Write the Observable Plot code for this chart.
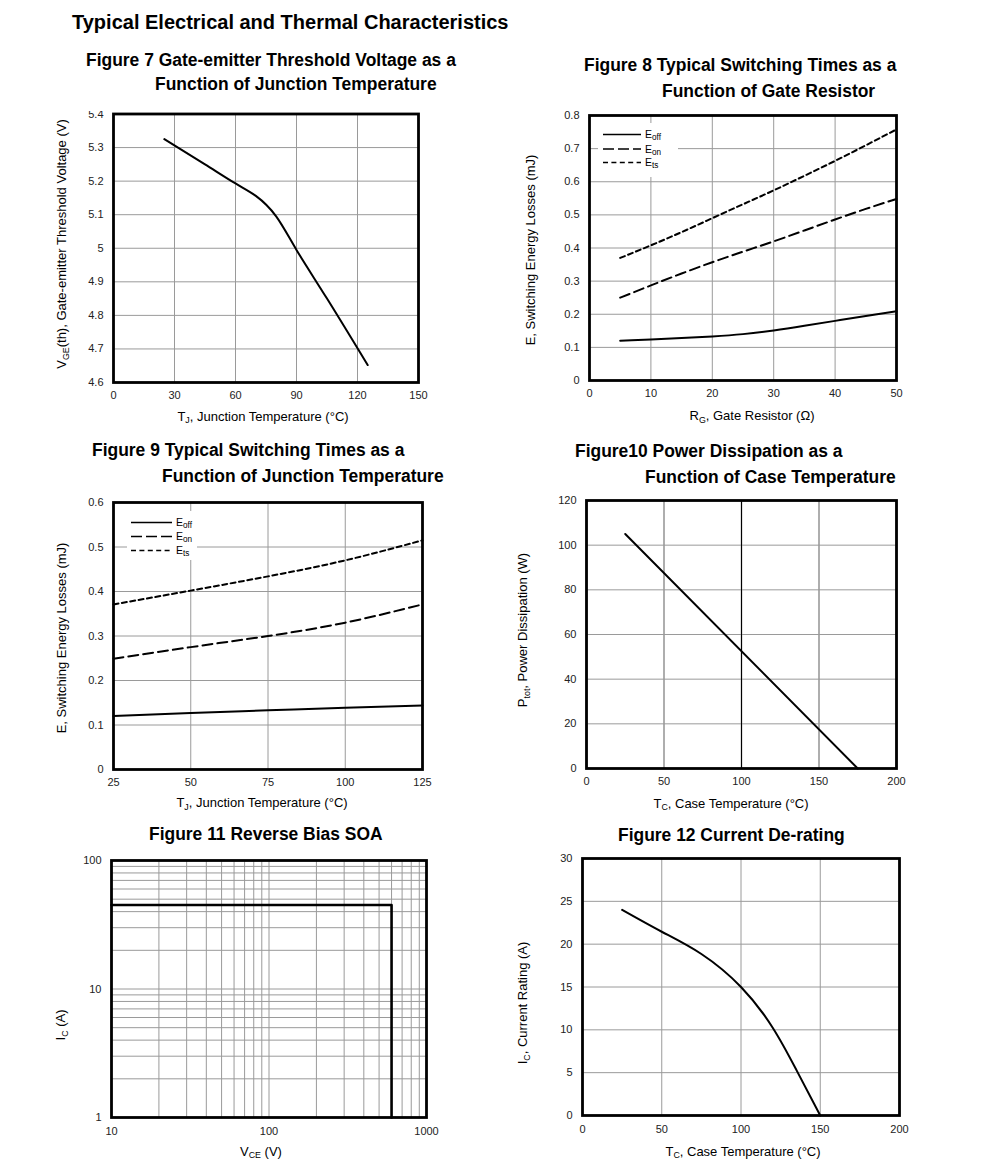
<!DOCTYPE html>
<html><head><meta charset="utf-8">
<script src="https://cdn.jsdelivr.net/npm/d3@7"></script>
<script src="https://cdn.jsdelivr.net/npm/@observablehq/plot@0.6"></script>
<style>
html,body{margin:0;padding:0;background:#fff;}
#page{position:relative;width:991px;height:1160px;overflow:hidden;background:#fff;}
</style></head><body><div id="page"></div>
<script>
// ---------- data ----------
// Figure 7
const tj7  = [25, 45, 60, 70, 80, 90, 105, 125];
const vge7 = [5.325, 5.25, 5.193, 5.156, 5.095, 4.995, 4.85, 4.652];
const x7Ticks = [0, 30, 60, 90, 120, 150];
const y7Ticks = [4.6, 4.7, 4.8, 4.9, 5, 5.1, 5.2, 5.3, 5.4];
// Figure 8
const rg8   = [5, 10, 15, 20, 25, 30, 35, 40, 45, 50];
const eoff8 = [0.12, 0.124, 0.128, 0.133, 0.14, 0.151, 0.165, 0.18, 0.195, 0.209];
const eon8  = [0.25, 0.287, 0.323, 0.357, 0.389, 0.42, 0.453, 0.486, 0.518, 0.548];
const ets8  = [0.37, 0.408, 0.448, 0.49, 0.532, 0.574, 0.618, 0.663, 0.71, 0.758];
const x8Ticks = [0, 10, 20, 30, 40, 50];
const y8Ticks = [0, 0.1, 0.2, 0.3, 0.4, 0.5, 0.6, 0.7, 0.8];
// Figure 9
const tj9   = [25, 50, 75, 100, 125];
const eoff9 = [0.12, 0.127, 0.133, 0.139, 0.144];
const eon9  = [0.249, 0.275, 0.30, 0.33, 0.371];
const ets9  = [0.371, 0.402, 0.434, 0.47, 0.515];
const x9Ticks = [25, 50, 75, 100, 125];
const y9Ticks = [0, 0.1, 0.2, 0.3, 0.4, 0.5, 0.6];
// Figure 10
const tc10 = [25, 175];
const p10  = [105, 0];
const x10Ticks = [0, 50, 100, 150, 200];
const y10Ticks = [0, 20, 40, 60, 80, 100, 120];
// Figure 11
const vce11 = [10, 600, 600];
const ic11  = [45, 45, 1];
const x11Grid = [10,20,30,40,50,60,70,80,90,100,200,300,400,500,600,700,800,900,1000];
const y11Grid = [1,2,3,4,5,6,7,8,9,10,20,30,40,50,60,70,80,90,100];
const x11Ticks = [10, 100, 1000];
const y11Ticks = [1, 10, 100];
// Figure 12
const tc12 = [25, 50, 75, 100, 120, 135, 150];
const ic12 = [24, 21.45, 18.85, 15.0, 10.25, 5.3, 0];
const x12Ticks = [0, 50, 100, 150, 200];
const y12Ticks = [0, 5, 10, 15, 20, 25, 30];

// ---------- helpers ----------
const page = document.getElementById("page");
const FONT = '"Liberation Sans", Arial, Helvetica, sans-serif';
const GRID = "#9a9a9a";
const fmt = d => String(d);

function chart(box, {x, y, marks, clipTop}) {
  const [l, t, r, b] = box;
  const ml = 60, mr = 16, mb = 32;
  const mt = clipTop != null ? clipTop : 12;
  const svg = Plot.plot({
    width: (r - l) + ml + mr, height: (b - t) + mt + mb,
    marginLeft: ml, marginRight: mr, marginTop: mt, marginBottom: mb,
    x, y,
    style: {background: "transparent", overflow: clipTop != null ? "hidden" : "visible",
            fontFamily: FONT, fontSize: "11px", color: "#222"},
    marks
  });
  svg.style.position = "absolute";
  svg.style.left = (l - ml) + "px";
  svg.style.top = (t - mt) + "px";
  page.append(svg);
}
function axes(xg, yg, xt, yt, extra = {}) {
  return [
    Plot.gridX(xg, {stroke: GRID, strokeOpacity: 1, strokeWidth: extra.gridXWidth || 1}),
    Plot.gridY(yg, {stroke: GRID, strokeOpacity: 1, strokeWidth: 1}),
    Plot.axisX(xt, {tickSize: 0, tickPadding: extra.xPad || 9, fontSize: 11, label: null, tickFormat: fmt}),
    Plot.axisY(yt, {tickSize: 0, tickPadding: 10, fontSize: 11, label: null, tickFormat: fmt})
  ];
}
const frame = Plot.frame({stroke: "black", strokeWidth: 2.8});
const LW = 2;
const DASH_ON = "10,5", DASH_TS = "5,3.5";

// Figure 7
chart([113, 113.5, 418, 382], {
  clipTop: 2.5,
  x: {domain: [0, 150]}, y: {domain: [4.6, 5.4]},
  marks: [...axes(x7Ticks, y7Ticks, x7Ticks, y7Ticks),
    Plot.line(tj7, {x: tj7, y: vge7, curve: "natural", stroke: "black", strokeWidth: LW}),
    frame]
});
// Figure 8
chart([589, 115, 896, 380], {
  x: {domain: [0, 50]}, y: {domain: [0, 0.8]},
  marks: [...axes(x8Ticks, y8Ticks, x8Ticks, y8Ticks),
    Plot.line(rg8, {x: rg8, y: eoff8, curve: "natural", stroke: "black", strokeWidth: LW}),
    Plot.line(rg8, {x: rg8, y: eon8, curve: "natural", stroke: "black", strokeWidth: LW, strokeDasharray: DASH_ON}),
    Plot.line(rg8, {x: rg8, y: ets8, curve: "natural", stroke: "black", strokeWidth: LW, strokeDasharray: DASH_TS}),
    frame]
});
// Figure 9
chart([113, 502, 422, 769], {
  x: {domain: [25, 125]}, y: {domain: [0, 0.6]},
  marks: [...axes(x9Ticks, y9Ticks, x9Ticks, y9Ticks),
    Plot.line(tj9, {x: tj9, y: eoff9, curve: "natural", stroke: "black", strokeWidth: LW}),
    Plot.line(tj9, {x: tj9, y: eon9, curve: "natural", stroke: "black", strokeWidth: LW, strokeDasharray: DASH_ON}),
    Plot.line(tj9, {x: tj9, y: ets9, curve: "natural", stroke: "black", strokeWidth: LW, strokeDasharray: DASH_TS}),
    frame]
});
// Figure 10
chart([586, 500, 896, 768], {
  x: {domain: [0, 200]}, y: {domain: [0, 120]},
  marks: [...axes(x10Ticks, y10Ticks, x10Ticks, y10Ticks, {gridXWidth: 1.6}),
    Plot.ruleX([100], {stroke: "black", strokeWidth: 1}),
    Plot.line(tc10, {x: tc10, y: p10, stroke: "black", strokeWidth: LW}),
    frame]
});
// Figure 11
chart([111, 860, 426, 1117], {
  x: {type: "log", domain: [10, 1000]}, y: {type: "log", domain: [1, 100]},
  marks: [...axes(x11Grid, y11Grid, x11Ticks, y11Ticks, {xPad: 10}),
    Plot.line(vce11, {x: vce11, y: ic11, stroke: "black", strokeWidth: 2.6}),
    frame]
});
// Figure 12
chart([582, 858, 899, 1115], {
  x: {domain: [0, 200]}, y: {domain: [0, 30]},
  marks: [...axes(x12Ticks, y12Ticks, x12Ticks, y12Ticks, {xPad: 10}),
    Plot.line(tc12, {x: tc12, y: ic12, curve: "natural", stroke: "black", strokeWidth: LW}),
    frame]
});

// ---------- overlay: titles, axis labels, legends ----------
const ov = d3.select(page).append("svg")
  .attr("width", 991).attr("height", 1160)
  .style("position", "absolute").style("left", "0px").style("top", "0px")
  .style("font-family", FONT);

function txt(parts, {x, y, size = 13, weight = "normal", anchor = "start", rotate = false, sub = 0.68}) {
  const t = ov.append("text")
    .attr("font-size", size).attr("font-weight", weight)
    .attr("text-anchor", anchor).attr("fill", "#000");
  if (rotate) t.attr("transform", `translate(${x},${y}) rotate(-90)`);
  else t.attr("x", x).attr("y", y);
  const shift = size * 0.2;
  let down = false;
  for (const p of parts) {
    const isSub = Array.isArray(p);
    const s = isSub ? p[0] : p;
    const ts = t.append("tspan").text(s);
    if (isSub && !down) { ts.attr("dy", shift).attr("font-size", size * sub); down = true; }
    else if (!isSub && down) { ts.attr("dy", -shift); down = false; }
    else if (isSub) ts.attr("font-size", size * sub);
  }
  return t;
}

// Titles
const TS = 17.45;
txt(["Typical Electrical and Thermal Characteristics"], {x: 72, y: 29, size: 20, weight: "bold"});
txt(["Figure 7 Gate-emitter Threshold Voltage as a"], {x: 86, y: 65.5, size: TS, weight: "bold"});
txt(["Function of Junction Temperature"], {x: 155, y: 90, size: TS, weight: "bold"});
txt(["Figure 8 Typical Switching Times as a"], {x: 584, y: 70.5, size: TS, weight: "bold"});
txt(["Function of Gate Resistor"], {x: 662, y: 96.5, size: TS, weight: "bold"});
txt(["Figure 9 Typical Switching Times as a"], {x: 92, y: 455.5, size: TS, weight: "bold"});
txt(["Function of Junction Temperature"], {x: 162, y: 481.5, size: TS, weight: "bold"});
txt(["Figure10 Power Dissipation as a"], {x: 575, y: 457, size: TS, weight: "bold"});
txt(["Function of Case Temperature"], {x: 645, y: 483, size: TS, weight: "bold"});
txt(["Figure 11 Reverse Bias SOA"], {x: 149, y: 839.5, size: TS, weight: "bold"});
txt(["Figure 12 Current De-rating"], {x: 618, y: 840.5, size: TS, weight: "bold"});

// Axis labels
txt(["T", ["J"], ", Junction Temperature (°C)"], {x: 263, y: 420.5, anchor: "middle"});
txt(["V", ["GE"], "(th), Gate-emitter Threshold Voltage (V)"], {x: 66, y: 244, anchor: "middle", rotate: true});
txt(["R", ["G"], ", Gate Resistor (Ω)"], {x: 752, y: 420, anchor: "middle"});
txt(["E, Switching Energy Losses (mJ)"], {x: 535, y: 250, anchor: "middle", rotate: true});
txt(["T", ["J"], ", Junction Temperature (°C)"], {x: 262, y: 807, anchor: "middle"});
txt(["E, Switching Energy Losses (mJ)"], {x: 66, y: 638, anchor: "middle", rotate: true});
txt(["T", ["C"], ", Case Temperature (°C)"], {x: 731, y: 807.5, anchor: "middle"});
txt(["P", ["tot"], ", Power Dissipation (W)"], {x: 527, y: 630, anchor: "middle", rotate: true});
txt(["V", ["CE"], " (V)"], {x: 261, y: 1155.5, anchor: "middle"});
txt(["I", ["C"], " (A)"], {x: 65, y: 1025, anchor: "middle", rotate: true});
txt(["T", ["C"], ", Case Temperature (°C)"], {x: 743, y: 1155.5, anchor: "middle"});
txt(["I", ["C"], ", Current Rating (A)"], {x: 527, y: 1003, anchor: "middle", rotate: true});

// Legends
function legend(box, x0, x1, ys) {
  ov.append("rect").attr("x", box[0]).attr("y", box[1])
    .attr("width", box[2] - box[0]).attr("height", box[3] - box[1]).attr("fill", "#fff");
  const dashes = [null, "11,4", "5,3.4"];
  const names = ["off", "on", "ts"];
  ys.forEach((y, i) => {
    const ln = ov.append("line").attr("x1", x0).attr("x2", x1).attr("y1", y).attr("y2", y)
      .attr("stroke", "#000").attr("stroke-width", 1.4);
    if (dashes[i]) ln.attr("stroke-dasharray", dashes[i]);
    txt(["E", [names[i]]], {x: x1 + 4, y: y + 3.6, size: 10.5, sub: 0.78});
  });
}
legend([598, 123, 678, 177], 603, 641, [134.5, 149, 162.5]);
legend([127, 511, 197, 560], 131, 172, [522.5, 536.5, 550.5]);
</script>
</body></html>
